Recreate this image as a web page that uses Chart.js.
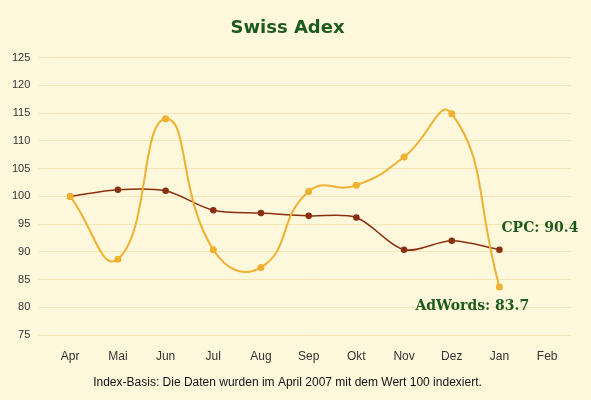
<!DOCTYPE html>
<html><head><meta charset="utf-8">
<script src="https://cdn.jsdelivr.net/npm/chart.js@4/dist/chart.umd.min.js"></script>
<style>html,body{margin:0;padding:0;background:#fdf8dc;}#w{width:591px;height:400px;position:relative}</style>
</head><body><div id="w"><canvas id="c"></canvas></div>
<script>
const months=["Apr","Mai","Jun","Jul","Aug","Sep","Okt","Nov","Dez","Jan","Feb"];
const adwords=[100,88.7,114,90.4,87.2,100.9,102,107.1,114.9,83.7,null];
const cpc=[100,101.2,101,97.5,97,96.5,96.2,90.4,92,90.4,null];
const yTicks=[75,80,85,90,95,100,105,110,115,120,125];
const labelsPlugin={id:'lbl',afterDatasetsDraw(ch){
 const c=ch.ctx,x=ch.scales.x,y=ch.scales.y;
 c.save();c.fillStyle='#1e5a1e';c.font='bold 14px "DejaVu Serif", serif';c.textBaseline='middle';
 c.fillText('CPC: 90.4',x.getPixelForValue(9)+2,y.getPixelForValue(cpc[9])-21);
 c.fillText('AdWords: 83.7',x.getPixelForValue(9)-84,y.getPixelForValue(adwords[9])+19);
 c.restore();}};
new Chart(document.getElementById('c'),{type:'line',
 data:{labels:months,datasets:[
  {data:adwords,borderColor:'#f0b030',backgroundColor:'#f0b030',borderWidth:2,tension:0.5,pointRadius:2.5},
  {data:cpc,borderColor:'#8b2f10',backgroundColor:'#8b2f10',borderWidth:1.5,tension:0.3,pointRadius:2.5}]},
 options:{responsive:true,maintainAspectRatio:false,animation:false,
  layout:{padding:{left:4,right:20,top:0,bottom:6}},
  plugins:{legend:{display:false},tooltip:{enabled:false},
   title:{display:true,text:'Swiss Adex',color:'#1e5a1e',font:{size:18,weight:'bold',family:'"DejaVu Sans"'},padding:{top:18,bottom:18}},
   subtitle:{display:true,position:'bottom',text:'Index-Basis: Die Daten wurden im April 2007 mit dem Wert 100 indexiert.',color:'#111',font:{size:12,family:'"Liberation Sans"'},padding:{top:6,bottom:4}}},
  scales:{x:{offset:true,grid:{display:false},border:{display:false},ticks:{padding:6,color:'#333',font:{size:12,family:'"Liberation Sans"'}}},
   y:{min:75,max:125,afterBuildTicks:a=>{a.ticks=yTicks.map(v=>({value:v}));},grid:{color:'#f3e6b8'},border:{display:false},ticks:{padding:8,color:'#333',font:{size:11,family:'"Liberation Sans"'}}}}},
 plugins:[labelsPlugin]});
</script></body></html>
